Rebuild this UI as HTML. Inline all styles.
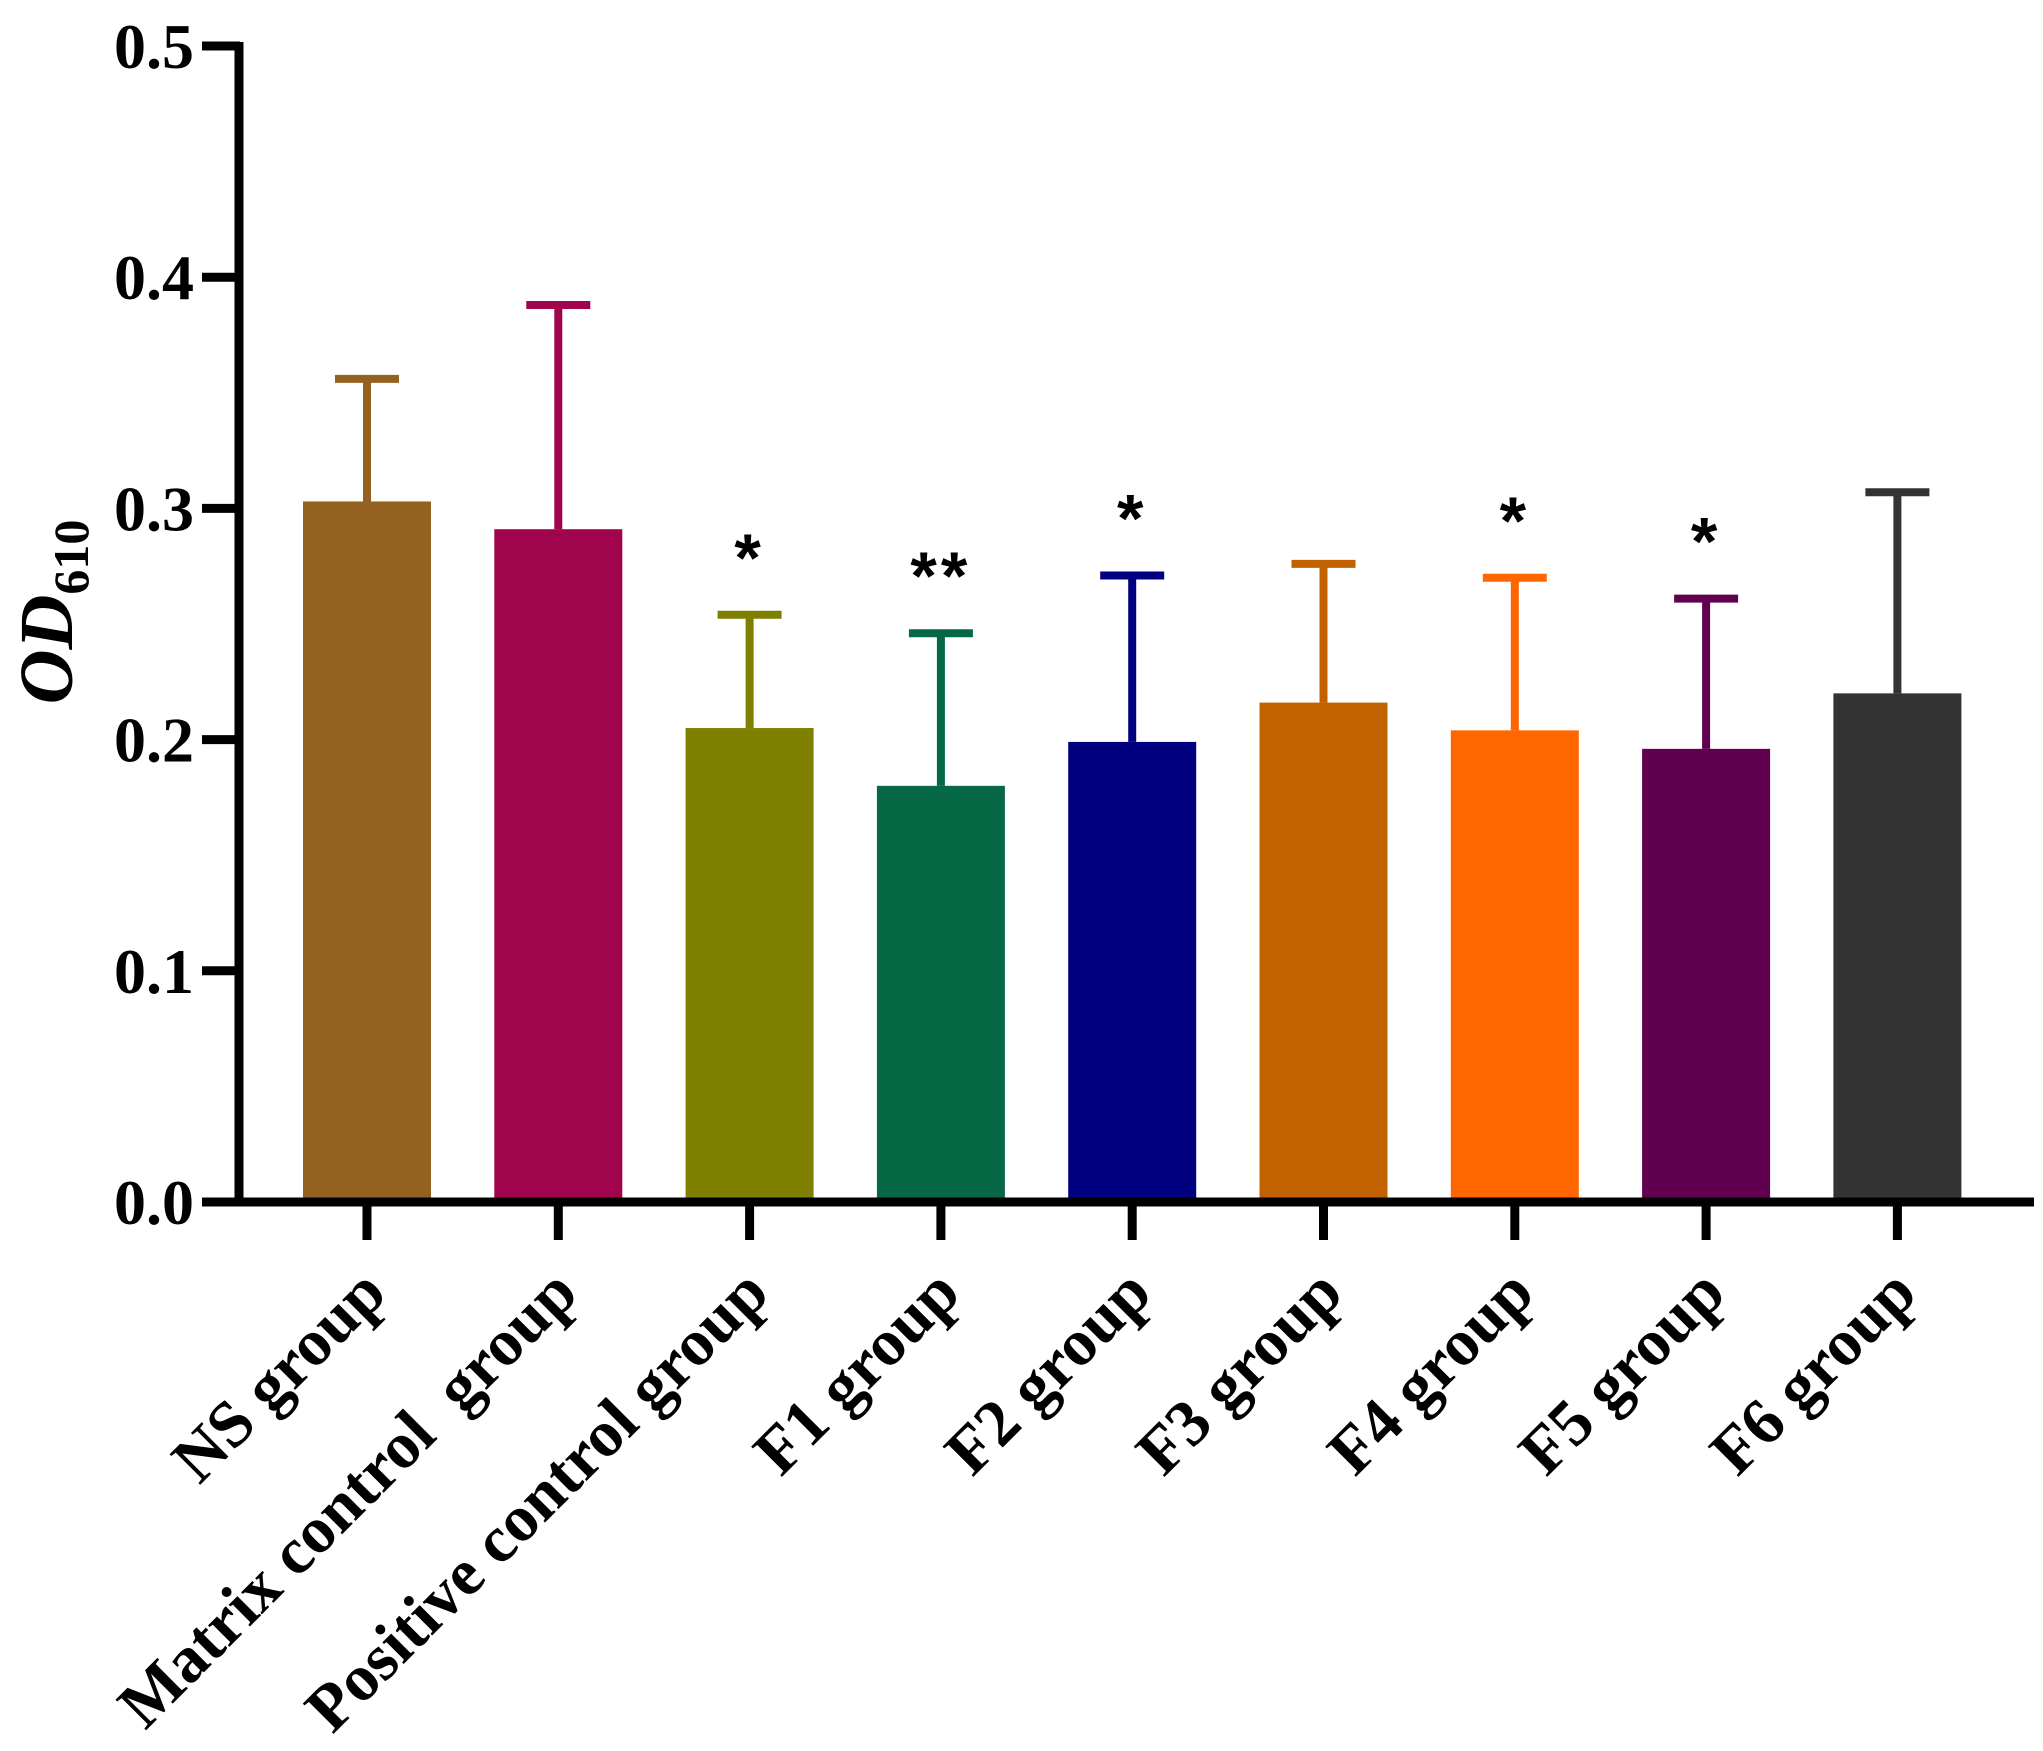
<!DOCTYPE html>
<html><head><meta charset="utf-8"><style>
html,body{margin:0;padding:0;background:#fff;}
svg{display:block;}
text{white-space:pre;}
</style></head><body>
<svg id="chart" xmlns="http://www.w3.org/2000/svg" width="2043" height="1751" viewBox="0 0 2043 1751">
<g id="plot"></g>
</svg>
<script>
const categories = ["NS group","Matrix control  group","Positive control group","F1 group","F2 group","F3 group","F4 group","F5 group","F6 group"];
const means = [0.303,0.291,0.205,0.180,0.199,0.216,0.204,0.196,0.220];
const errorTops = [0.356,0.388,0.254,0.246,0.271,0.276,0.270,0.261,0.307];
const significance = ["","","*","**","*","","*","*",""];
const colors = ["#946220","#A0044C","#808000","#076846","#000080","#C26100","#FF6600","#620050","#333333"];
const yTicks = [0,0.1,0.2,0.3,0.4,0.5];
const yTickLabels = ["0.0","0.1","0.2","0.3","0.4","0.5"];

const NS="http://www.w3.org/2000/svg";
const g=document.getElementById('plot');
const Y0=1202, Y1=46, VMAX=0.5;
function y(v){return Y0-(v/VMAX)*(Y0-Y1);}
const X_FIRST=367, STEP=191.3, BARW=128, CAPW=64;
function x(i){return X_FIRST+i*STEP;}
function mk(tag,attrs){const e=document.createElementNS(NS,tag);for(const k in attrs)e.setAttribute(k,attrs[k]);g.appendChild(e);return e;}

categories.forEach((c,i)=>{
  const cx=x(i);
  const bar=mk('rect',{x:cx-BARW/2,y:y(means[i]),width:BARW,height:Y0-y(means[i]),fill:colors[i]});
  
  
  const stem=mk('line',{x1:cx,x2:cx,y1:y(means[i]),y2:y(errorTops[i]),stroke:colors[i],'stroke-width':8});
  
  
  const cap=mk('line',{x1:cx-CAPW/2,x2:cx+CAPW/2,y1:y(errorTops[i]),y2:y(errorTops[i]),stroke:colors[i],'stroke-width':8});
  
  
  if(significance[i]){
    const s=mk('text',{x:cx,y:y(errorTops[i])-34,'text-anchor':'middle','font-family':'Liberation Sans, sans-serif','font-size':68,'font-weight':'bold',fill:'#000','letter-spacing':4});
    s.textContent=significance[i];
    
    
  }
  const t=mk('line',{x1:cx,x2:cx,y1:Y0,y2:Y0+38,stroke:'#000','stroke-width':9});
  
  
  const ax=cx+22, ay=Y0+94;
  const lb=mk('text',{x:ax,y:ay,'text-anchor':'end','font-family':'Liberation Serif, serif','font-weight':'bold','font-size':66,fill:'#000',transform:`rotate(-45 ${ax} ${ay})`});
  lb.textContent=c;
  
  
});

yTicks.forEach((v,i)=>{
  const t=mk('line',{x1:202,x2:240,y1:y(v),y2:y(v),stroke:'#000','stroke-width':9});
  
  
  const l=mk('text',{x:194,y:y(v)+22,'text-anchor':'end','font-family':'Liberation Serif, serif','font-weight':'bold','font-size':64,fill:'#000'});
  l.textContent=yTickLabels[i];
  
  
});

const ya=mk('line',{x1:239,x2:239,y1:Y1-4,y2:Y0+4,stroke:'#000','stroke-width':9});


const xa=mk('line',{x1:202,x2:2034,y1:Y0,y2:Y0,stroke:'#000','stroke-width':9});



const yt=mk('text',{x:72,y:612,'text-anchor':'middle','font-family':'Liberation Serif, serif','font-weight':'bold','font-style':'italic','font-size':76,fill:'#000',transform:'rotate(-90 72 612)'});
yt.innerHTML='OD<tspan font-size="50" dy="16" font-style="normal">610</tspan>';


</script>
</body></html>
